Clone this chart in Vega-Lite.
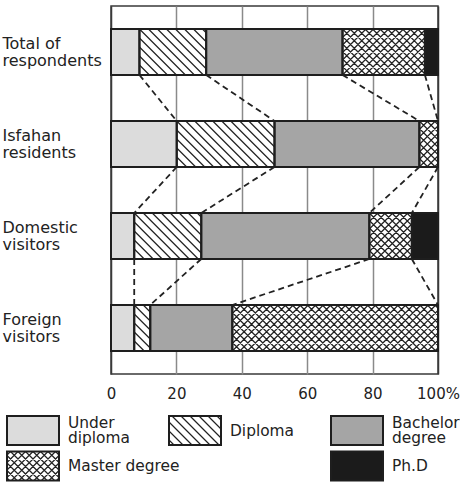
{
  "$schema": "https://vega.github.io/schema/vega-lite/v6.json",
  "width": 327,
  "height": 368,
  "autosize": {"type": "none"},
  "padding": {"left": 111, "top": 6, "right": 22, "bottom": 112},
  "background": "white",
  "config": {"font": "DejaVu Sans", "view": {"stroke": "#3a3a3a", "strokeWidth": 1.5}},
  "resolve": {"scale": {"x": "independent", "y": "independent"}},
  "layer": [
    {
      "data": {"values": [
        {"group": "Total of respondents", "category": "Under diploma", "value": 8.7},
        {"group": "Total of respondents", "category": "Diploma", "value": 20.4},
        {"group": "Total of respondents", "category": "Bachelor degree", "value": 41.7},
        {"group": "Total of respondents", "category": "Master degree", "value": 25.2},
        {"group": "Total of respondents", "category": "Ph.D", "value": 4.0},
        {"group": "Isfahan residents", "category": "Under diploma", "value": 20.1},
        {"group": "Isfahan residents", "category": "Diploma", "value": 29.9},
        {"group": "Isfahan residents", "category": "Bachelor degree", "value": 44.3},
        {"group": "Isfahan residents", "category": "Master degree", "value": 5.7},
        {"group": "Domestic visitors", "category": "Under diploma", "value": 7.1},
        {"group": "Domestic visitors", "category": "Diploma", "value": 20.5},
        {"group": "Domestic visitors", "category": "Bachelor degree", "value": 51.4},
        {"group": "Domestic visitors", "category": "Master degree", "value": 13.0},
        {"group": "Domestic visitors", "category": "Ph.D", "value": 8.0},
        {"group": "Foreign visitors", "category": "Under diploma", "value": 7.1},
        {"group": "Foreign visitors", "category": "Diploma", "value": 4.9},
        {"group": "Foreign visitors", "category": "Bachelor degree", "value": 25.1},
        {"group": "Foreign visitors", "category": "Master degree", "value": 62.9}
      ]},
      "transform": [
        {"window": [{"op": "row_number", "as": "idx"}]},
        {"stack": "value", "groupby": ["group"], "sort": [{"field": "idx", "order": "ascending"}], "as": ["x0", "x1"]}
      ],
      "layer": [
        {
          "mark": {"type": "bar", "strokeWidth": 0},
          "encoding": {
            "x": {"field": "x0", "type": "quantitative", "scale": {"domain": [0, 100], "nice": false, "zero": false},
              "axis": {"values": [0, 20, 40, 60, 80, 100], "grid": true,
                "gridColor": {"condition": {"test": "datum.value == 0 || datum.value == 100", "value": "#3a3a3a"}, "value": "#8a8a8a"},
                "gridWidth": 1.5, "domain": false, "ticks": false, "tickSize": 0, "labelPadding": 12,
                "labelFontSize": 15, "labelColor": "#222222", "labelFlush": false, "labelOverlap": false,
                "labelExpr": "datum.value == 100 ? '100%' : datum.label", "title": null}},
            "x2": {"field": "x1"},
            "y": {"field": "group", "type": "nominal", "sort": null,
              "scale": {"domain": ["Total of respondents", "Isfahan residents", "Domestic visitors", "Foreign visitors"], "paddingInner": 0.5, "paddingOuter": 0.25},
              "axis": {"domain": false, "ticks": false, "tickSize": 0, "labelAlign": "left", "labelBaseline": "middle",
                "labelPadding": 109, "labelOffset": -8.5, "labelFontSize": 16, "labelLineHeight": 17, "labelColor": "#222222", "labelLimit": 200,
                "title": null,
                "labelExpr": "datum.label == 'Total of respondents' ? ['Total of', 'respondents'] : split(datum.label, ' ')"}},
            "fill": {"field": "category", "type": "nominal",
              "scale": {"domain": ["Under diploma", "Diploma", "Bachelor degree", "Master degree", "Ph.D"],
                "range": ["#dcdcdc", "#ffffff", "#a5a5a5", "#ffffff", "#1b1b1b"]}, "legend": null}
          }
        },
        {
          "transform": [{"filter": "datum.category === 'Diploma'"}],
          "mark": {"type": "point", "size": 4, "filled": false, "opacity": 1, "stroke": "#222222", "strokeWidth": 1.2, "clip": true,
            "shape": "M0,22L1,23M0,13L10,23M0,4L19,23M0,-5L28,23M0,-14L37,23M0,-23L46,23M9,-23L55,23M18,-23L64,23M27,-23L73,23M36,-23L82,23M45,-23L91,23M54,-23L100,23M63,-23L109,23M72,-23L118,23M81,-23L127,23M90,-23L136,23M99,-23L145,23"},
          "encoding": {
            "x": {"field": "x0", "type": "quantitative"},
            "y": {"field": "group", "type": "nominal", "sort": null}
          }
        },
        {
          "transform": [{"filter": "datum.category === 'Master degree'"}],
          "mark": {"type": "bar", "fill": "#ffffff", "strokeWidth": 0},
          "encoding": {
            "x": {"field": "x0", "type": "quantitative"},
            "x2": {"field": "x1"},
            "y": {"field": "group", "type": "nominal", "sort": null}
          }
        },
        {
          "transform": [{"filter": "datum.category === 'Master degree'"}],
          "mark": {"type": "point", "size": 4, "filled": false, "opacity": 1, "stroke": "#222222", "strokeWidth": 1.2, "clip": true,
            "shape": "M0,22L1,23M0,14.5L8.5,23M0,7L16,23M0,-0.5L23.5,23M0,-8L31,23M0,-15.5L38.5,23M0,-23L46,23M7.5,-23L53.5,23M15,-23L61,23M22.5,-23L68.5,23M30,-23L76,23M37.5,-23L83.5,23M45,-23L91,23M52.5,-23L98.5,23M60,-23L106,23M67.5,-23L113.5,23M75,-23L121,23M82.5,-23L128.5,23M90,-23L136,23M97.5,-23L143.5,23M105,-23L151,23M112.5,-23L158.5,23M120,-23L166,23M127.5,-23L173.5,23M135,-23L181,23M142.5,-23L188.5,23M150,-23L196,23M157.5,-23L203.5,23M165,-23L211,23M172.5,-23L218.5,23M180,-23L226,23M187.5,-23L233.5,23M195,-23L241,23M202.5,-23L248.5,23M210,-23L256,23M0,-22L1,-23M0,-14.5L8.5,-23M0,-7L16,-23M0,0.5L23.5,-23M0,8L31,-23M0,15.5L38.5,-23M0,23L46,-23M7.5,23L53.5,-23M15,23L61,-23M22.5,23L68.5,-23M30,23L76,-23M37.5,23L83.5,-23M45,23L91,-23M52.5,23L98.5,-23M60,23L106,-23M67.5,23L113.5,-23M75,23L121,-23M82.5,23L128.5,-23M90,23L136,-23M97.5,23L143.5,-23M105,23L151,-23M112.5,23L158.5,-23M120,23L166,-23M127.5,23L173.5,-23M135,23L181,-23M142.5,23L188.5,-23M150,23L196,-23M157.5,23L203.5,-23M165,23L211,-23M172.5,23L218.5,-23M180,23L226,-23M187.5,23L233.5,-23M195,23L241,-23M202.5,23L248.5,-23M210,23L256,-23"},
          "encoding": {
            "x": {"field": "x0", "type": "quantitative"},
            "y": {"field": "group", "type": "nominal", "sort": null}
          }
        },
        {
          "transform": [{"filter": "datum.category === 'Under diploma' || datum.category === 'Bachelor degree' || datum.category === 'Ph.D'"}],
          "mark": {"type": "bar", "strokeWidth": 0},
          "encoding": {
            "x": {"field": "x0", "type": "quantitative"},
            "x2": {"field": "x1"},
            "y": {"field": "group", "type": "nominal", "sort": null},
            "fill": {"field": "category", "type": "nominal", "legend": null}
          }
        },
        {
          "mark": {"type": "bar", "fill": "transparent", "stroke": "#1e1e1e", "strokeWidth": 2},
          "encoding": {
            "x": {"field": "x0", "type": "quantitative"},
            "x2": {"field": "x1"},
            "y": {"field": "group", "type": "nominal", "sort": null}
          }
        }
      ]
    },
    {
      "data": {"values": [
        {"from_edge": "Total of respondents (bottom)", "to_edge": "Isfahan residents (top)", "x_from": 8.7, "x_to": 20.1},
        {"from_edge": "Total of respondents (bottom)", "to_edge": "Isfahan residents (top)", "x_from": 29.1, "x_to": 50.0},
        {"from_edge": "Total of respondents (bottom)", "to_edge": "Isfahan residents (top)", "x_from": 70.8, "x_to": 94.3},
        {"from_edge": "Total of respondents (bottom)", "to_edge": "Isfahan residents (top)", "x_from": 96.0, "x_to": 100},
        {"from_edge": "Isfahan residents (bottom)", "to_edge": "Domestic visitors (top)", "x_from": 20.1, "x_to": 7.1},
        {"from_edge": "Isfahan residents (bottom)", "to_edge": "Domestic visitors (top)", "x_from": 50.0, "x_to": 27.6},
        {"from_edge": "Isfahan residents (bottom)", "to_edge": "Domestic visitors (top)", "x_from": 94.3, "x_to": 79.0},
        {"from_edge": "Isfahan residents (bottom)", "to_edge": "Domestic visitors (top)", "x_from": 100, "x_to": 92.0},
        {"from_edge": "Domestic visitors (bottom)", "to_edge": "Foreign visitors (top)", "x_from": 7.1, "x_to": 7.1},
        {"from_edge": "Domestic visitors (bottom)", "to_edge": "Foreign visitors (top)", "x_from": 27.6, "x_to": 12.0},
        {"from_edge": "Domestic visitors (bottom)", "to_edge": "Foreign visitors (top)", "x_from": 79.0, "x_to": 37.1},
        {"from_edge": "Domestic visitors (bottom)", "to_edge": "Foreign visitors (top)", "x_from": 92.0, "x_to": 100}
      ]},
      "mark": {"type": "rule", "strokeDash": [6, 4], "stroke": "#222222", "strokeWidth": 1.8},
      "encoding": {
        "x": {"field": "x_from", "type": "quantitative", "scale": {"domain": [0, 100], "nice": false, "zero": false}, "axis": null},
        "x2": {"field": "x_to"},
        "y": {"field": "from_edge", "type": "nominal",
          "scale": {"type": "point", "padding": 0.5, "domain": [
            "Total of respondents (top)", "Total of respondents (bottom)",
            "Isfahan residents (top)", "Isfahan residents (bottom)",
            "Domestic visitors (top)", "Domestic visitors (bottom)",
            "Foreign visitors (top)", "Foreign visitors (bottom)"]}, "axis": null},
        "y2": {"field": "to_edge"}
      }
    },
    {
      "data": {"values": [
        {"category": "Under diploma", "label": "Under\ndiploma", "col": 0, "row": 0},
        {"category": "Diploma", "label": "Diploma", "col": 1, "row": 0},
        {"category": "Bachelor degree", "label": "Bachelor\ndegree", "col": 2, "row": 0},
        {"category": "Master degree", "label": "Master degree", "col": 0, "row": 1},
        {"category": "Ph.D", "label": "Ph.D", "col": 2, "row": 1}
      ]},
      "encoding": {
        "x": {"field": "col", "type": "quantitative", "scale": {"domain": [0, 2], "range": [-78, 246], "nice": false, "zero": false}, "axis": null},
        "y": {"field": "row", "type": "quantitative", "scale": {"domain": [0, 1], "range": [424.5, 460], "nice": false, "zero": false}, "axis": null}
      },
      "layer": [
        {
          "mark": {"type": "point", "size": 4, "filled": true, "opacity": 1, "strokeWidth": 0, "shape": "M-26,-14.5H26V14.5H-26Z"},
          "encoding": {"fill": {"field": "category", "type": "nominal", "legend": null}}
        },
        {
          "transform": [{"filter": "datum.category === 'Diploma'"}],
          "mark": {"type": "point", "size": 4, "filled": false, "opacity": 1, "stroke": "#222222", "strokeWidth": 1.2,
            "shape": "M-26,9.5L-21,14.5M-26,0.5L-12,14.5M-26,-8.5L-3,14.5M-23,-14.5L6,14.5M-14,-14.5L15,14.5M-5,-14.5L24,14.5M4,-14.5L26,7.5M13,-14.5L26,-1.5M22,-14.5L26,-10.5"}
        },
        {
          "transform": [{"filter": "datum.category === 'Master degree'"}],
          "mark": {"type": "point", "size": 4, "filled": false, "opacity": 1, "stroke": "#222222", "strokeWidth": 1.2,
            "shape": "M-26,12L-23.5,14.5M-26,4.5L-16,14.5M-26,-3L-8.5,14.5M-26,-10.5L-1,14.5M-22.5,-14.5L6.5,14.5M-15,-14.5L14,14.5M-7.5,-14.5L21.5,14.5M0,-14.5L26,11.5M7.5,-14.5L26,4M15,-14.5L26,-3.5M22.5,-14.5L26,-11M26,12L23.5,14.5M26,4.5L16,14.5M26,-3L8.5,14.5M26,-10.5L1,14.5M22.5,-14.5L-6.5,14.5M15,-14.5L-14,14.5M7.5,-14.5L-21.5,14.5M0,-14.5L-26,11.5M-7.5,-14.5L-26,4M-15,-14.5L-26,-3.5M-22.5,-14.5L-26,-11"}
        },
        {
          "mark": {"type": "point", "size": 4, "filled": false, "opacity": 1, "stroke": "#1e1e1e", "strokeWidth": 2, "shape": "M-26,-14.5H26V14.5H-26Z"}
        },
        {
          "transform": [{"filter": "indexof(datum.label, '\\n') >= 0"}],
          "mark": {"type": "text", "align": "left", "baseline": "middle", "dx": 35, "dy": -7.25, "fontSize": 15.4, "lineHeight": 14.5, "lineBreak": "\n", "color": "#222222"},
          "encoding": {"text": {"field": "label", "type": "nominal"}}
        },
        {
          "transform": [{"filter": "indexof(datum.label, '\\n') < 0"}],
          "mark": {"type": "text", "align": "left", "baseline": "middle", "dx": 35, "fontSize": 15.4, "color": "#222222"},
          "encoding": {"text": {"field": "label", "type": "nominal"}}
        }
      ]
    }
  ]
}
